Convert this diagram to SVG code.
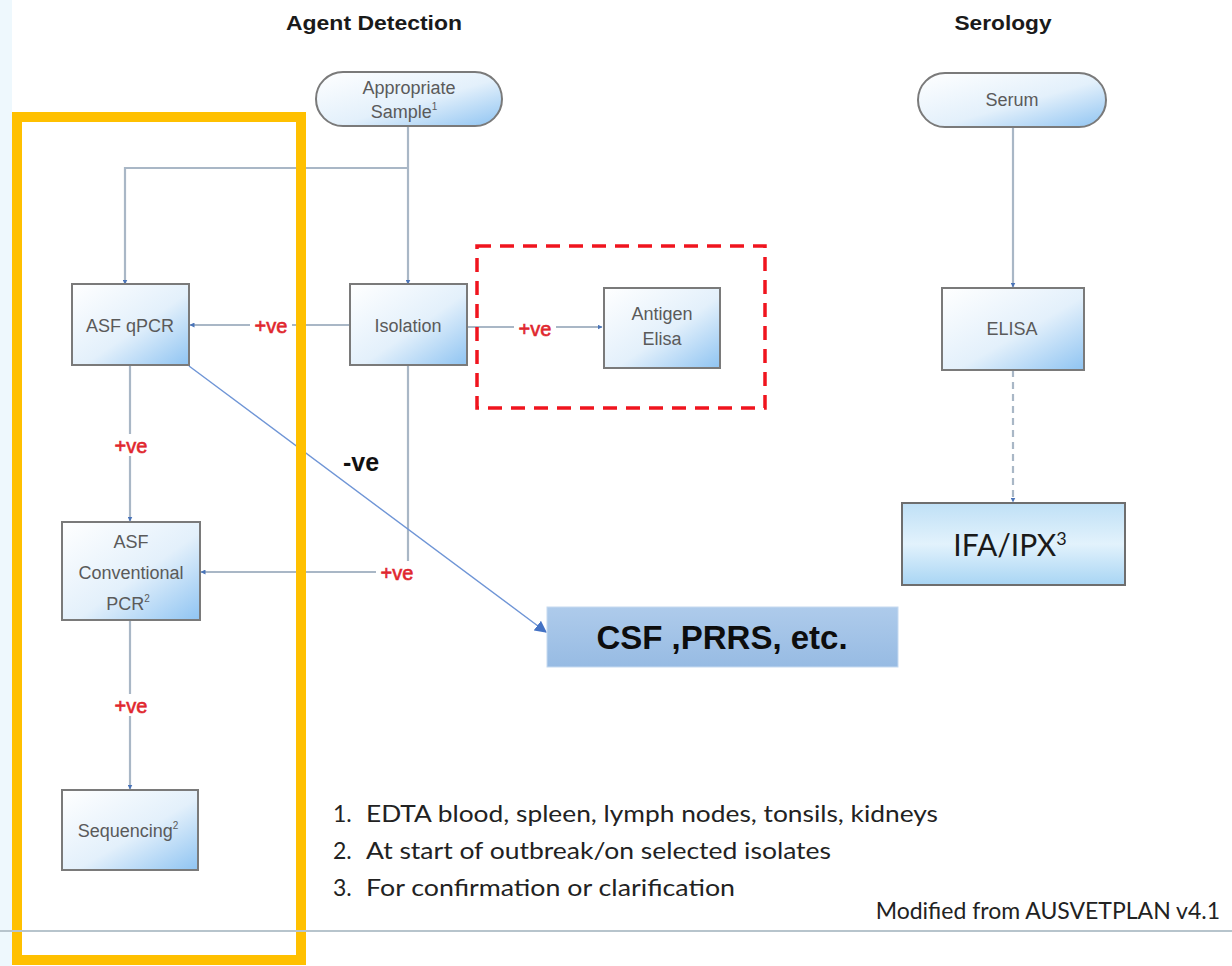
<svg xmlns="http://www.w3.org/2000/svg" width="1232" height="966" viewBox="0 0 1232 966">
<defs>
<linearGradient id="boxg" x1="0" y1="0" x2="1" y2="1">
<stop offset="0" stop-color="#ffffff"/>
<stop offset="0.55" stop-color="#e3f0fb"/>
<stop offset="1" stop-color="#8fc4f2"/>
</linearGradient>
<linearGradient id="ifag" x1="0" y1="0" x2="0" y2="1">
<stop offset="0" stop-color="#bfe0f6"/>
<stop offset="0.5" stop-color="#e2f2fc"/>
<stop offset="1" stop-color="#a8d5f4"/>
</linearGradient>
<linearGradient id="csfg" x1="0" y1="0" x2="0" y2="1">
<stop offset="0" stop-color="#aecbeb"/>
<stop offset="1" stop-color="#97bbe3"/>
</linearGradient>
<marker id="arr" viewBox="0 0 10 10" refX="9" refY="5" markerWidth="5" markerHeight="5" orient="auto-start-reverse" markerUnits="userSpaceOnUse">
<path d="M0,0 L10,5 L0,10 z" fill="#4a74b8"/>
</marker>
<marker id="arrb" viewBox="0 0 10 10" refX="9" refY="5" markerWidth="12" markerHeight="12" orient="auto" markerUnits="userSpaceOnUse">
<path d="M0,0 L10,5 L0,10 z" fill="#4472c4"/>
</marker>
</defs>
<style>
.box{fill:url(#boxg);stroke:#7a7a7a;stroke-width:2}
.nt{font-family:"Liberation Sans",Arial,sans-serif;font-size:18px;fill:#5a5a5a;text-anchor:middle}
.conn{fill:none;stroke:#a9b7c6;stroke-width:2.2}
.pos{font-family:"Liberation Sans",Arial,sans-serif;font-size:20px;fill:#e0262d;stroke:#e0262d;stroke-width:0.6;text-anchor:middle}
.title{font-family:"Liberation Sans",Arial,sans-serif;font-size:20px;font-weight:bold;fill:#1a1a1a;text-anchor:middle}
.fn{font-family:Lato,"Liberation Sans",sans-serif;font-size:23px;fill:#222}
</style>
<rect x="0" y="0" width="1232" height="966" fill="#ffffff"/>
<rect x="0" y="0" width="12" height="966" fill="#eef8fd"/>

<text class="title" x="374" y="30" textLength="176" lengthAdjust="spacingAndGlyphs">Agent Detection</text>
<text class="title" x="1003" y="30" textLength="97" lengthAdjust="spacingAndGlyphs">Serology</text>

<g id="connectors">
<path class="conn" d="M408,126 V284" marker-end="url(#arr)"/>
<path class="conn" d="M408,168 H125 V284" marker-end="url(#arr)"/>
<path class="conn" d="M350,325 H190" marker-end="url(#arr)"/>
<path class="conn" d="M467,327 H602" marker-end="url(#arr)"/>
<path class="conn" d="M408,365 V572 H201" marker-end="url(#arr)"/>
<path class="conn" d="M130,365 V521" marker-end="url(#arr)"/>
<path class="conn" d="M130,620 V789" marker-end="url(#arr)"/>
<path class="conn" d="M1013,127 V287" marker-end="url(#arr)"/>
<path class="conn" d="M1013,370 V502" stroke-dasharray="7,5" marker-end="url(#arr)"/>
<path d="M189,366 L546,632" fill="none" stroke="#6f95d6" stroke-width="1.4" marker-end="url(#arrb)"/>
<rect x="250" y="313" width="42" height="22" fill="#ffffff"/>
<text class="pos" x="271" y="333">+ve</text>
<rect x="514" y="316" width="42" height="22" fill="#ffffff"/>
<text class="pos" x="535" y="336">+ve</text>
<rect x="110" y="434" width="42" height="22" fill="#ffffff"/>
<text class="pos" x="131" y="453">+ve</text>
<rect x="376" y="561" width="42" height="22" fill="#ffffff"/>
<text class="pos" x="397" y="580">+ve</text>
<rect x="110" y="694" width="42" height="22" fill="#ffffff"/>
<text class="pos" x="131" y="713">+ve</text>
<text x="361" y="471" font-family="'Liberation Sans',Arial,sans-serif" font-size="25" font-weight="bold" fill="#111" text-anchor="middle">-ve</text>
</g>

<rect x="477" y="246" width="288" height="162" fill="none" stroke="#f0141e" stroke-width="3.5" stroke-dasharray="14,9"/>

<g id="appropriate-sample">
<rect class="box" x="316" y="72" width="186" height="54" rx="27"/>
<text class="nt" x="409" y="94">Appropriate</text>
<text class="nt" x="404" y="118">Sample<tspan font-size="10" dy="-8">1</tspan></text>
</g>
<g id="asf-qpcr">
<rect class="box" x="72" y="284" width="117" height="81"/>
<text class="nt" x="130" y="332" font-size="19">ASF qPCR</text>
</g>
<g id="isolation">
<rect class="box" x="350" y="284" width="117" height="81"/>
<text class="nt" x="408" y="332" font-size="19">Isolation</text>
</g>
<g id="antigen-elisa">
<rect class="box" x="604" y="288" width="116" height="80"/>
<text class="nt" x="662" y="320" font-size="19">Antigen</text>
<text class="nt" x="662" y="345" font-size="19">Elisa</text>
</g>
<g id="asf-conventional-pcr">
<rect class="box" x="62" y="522" width="138" height="98"/>
<text class="nt" x="131" y="548" font-size="19">ASF</text>
<text class="nt" x="131" y="579" font-size="19">Conventional</text>
<text class="nt" x="128" y="610" font-size="19">PCR<tspan font-size="10" dy="-8">2</tspan></text>
</g>
<g id="sequencing">
<rect class="box" x="62" y="790" width="136" height="80"/>
<text class="nt" x="128" y="837">Sequencing<tspan font-size="10" dy="-8">2</tspan></text>
</g>
<g id="csf-prrs">
<rect x="547" y="607" width="351" height="60" fill="url(#csfg)" stroke="#c6daf0" stroke-width="1"/>
<text x="722" y="649" font-family="'Liberation Sans',Arial,sans-serif" font-size="33" font-weight="bold" fill="#0d0d0d" text-anchor="middle">CSF ,PRRS, etc.</text>
</g>
<g id="serum">
<rect class="box" x="918" y="73" width="188" height="54" rx="27"/>
<text class="nt" x="1012" y="106">Serum</text>
</g>
<g id="elisa">
<rect class="box" x="942" y="288" width="142" height="82"/>
<text class="nt" x="1012" y="335" font-size="14">ELISA</text>
</g>
<g id="ifa-ipx">
<rect x="902" y="503" width="223" height="82" fill="url(#ifag)" stroke="#6e6e6e" stroke-width="2"/>
<text x="1010" y="556" font-family="Lato,'Liberation Sans',sans-serif" font-size="30" fill="#1a1a1a" text-anchor="middle">IFA/IPX<tspan font-size="18" dy="-11">3</tspan></text>
</g>

<rect x="17" y="117" width="284" height="843" fill="none" stroke="#ffc000" stroke-width="10"/>

<g id="footnotes">
<text class="fn" x="333" y="822">1.</text>
<text class="fn" x="366" y="822" textLength="572" lengthAdjust="spacingAndGlyphs">EDTA blood, spleen, lymph nodes, tonsils, kidneys</text>
<text class="fn" x="333" y="859">2.</text>
<text class="fn" x="366" y="859" textLength="465" lengthAdjust="spacingAndGlyphs">At start of outbreak/on selected isolates</text>
<text class="fn" x="333" y="896">3.</text>
<text class="fn" x="366" y="896" textLength="369" lengthAdjust="spacingAndGlyphs">For confirmation or clarification</text>
<text class="fn" x="1220" y="919" font-size="21" text-anchor="end">Modified from AUSVETPLAN v4.1</text>
</g>
<line x1="0" y1="931" x2="1232" y2="931" stroke="#b7c4cc" stroke-width="2"/>
</svg>
